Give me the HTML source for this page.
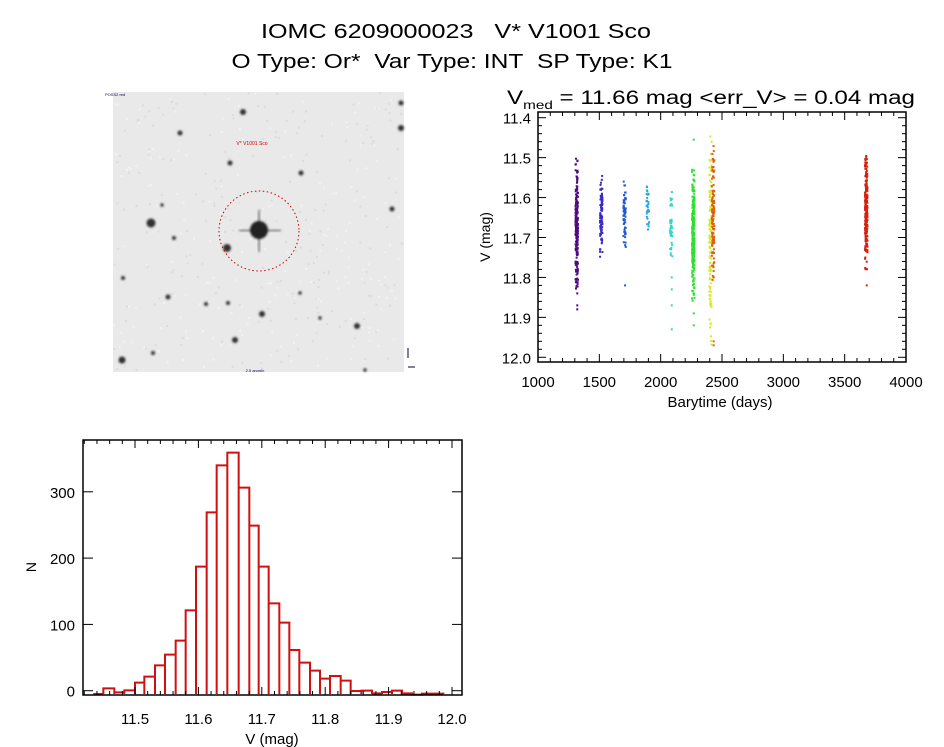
<!DOCTYPE html>
<html><head><meta charset="utf-8"><style>
html,body{margin:0;padding:0;background:#fff;}
svg{display:block;font-family:"Liberation Sans","DejaVu Sans",sans-serif;}
</style></head><body>
<svg id="s" width="944" height="747" viewBox="0 0 944 747" xmlns="http://www.w3.org/2000/svg">
<defs><filter id="bl" x="-50%" y="-50%" width="200%" height="200%"><feGaussianBlur stdDeviation="1"/></filter></defs>
<rect width="944" height="747" fill="#fff"/>
<text x="456" y="38" font-size="20" text-anchor="middle" textLength="390" lengthAdjust="spacingAndGlyphs">IOMC 6209000023&#160;&#160;&#160;V* V1001 Sco</text>
<text x="452" y="68" font-size="20" text-anchor="middle" textLength="441" lengthAdjust="spacingAndGlyphs">O Type: Or*&#160;&#160;Var Type: INT&#160;&#160;SP Type: K1</text>
<!-- image -->
<rect x="113" y="92" width="291" height="280" fill="#e9e9e9"/>
<g id="stars"></g>
<circle cx="259" cy="231" r="40" fill="none" stroke="#c00" stroke-width="1" stroke-dasharray="1.5 2.5"/>
<text x="252" y="145" font-size="5" fill="#c00" text-anchor="middle">V* V1001 Sco</text>
<text x="105" y="96" font-size="4" fill="#006">POSS2 red</text>
<text x="255" y="372" font-size="4" fill="#006" text-anchor="middle">2.5 arcmin</text>
<line x1="408" y1="348" x2="408" y2="358" stroke="#003" stroke-width="1"/>
<line x1="408" y1="367" x2="415" y2="367" stroke="#003" stroke-width="1"/>
<!-- lightcurve -->
<text x="507" y="104" font-size="19" textLength="408" lengthAdjust="spacingAndGlyphs">V<tspan font-size="12" dy="5">med</tspan><tspan dy="-5"> = 11.66 mag &lt;err_V&gt; = 0.04 mag</tspan></text>
<g id="lc"></g>
<rect x="538" y="112" width="368" height="250" fill="none" stroke="#000" stroke-width="1.5"/>
<text transform="translate(490,237) rotate(-90)" font-size="14" text-anchor="middle">V (mag)</text>
<text x="720" y="407" font-size="15" text-anchor="middle">Barytime (days)</text>
<!-- histogram -->
<g id="hist"></g>
<rect x="83" y="440" width="379" height="255" fill="none" stroke="#000" stroke-width="1.5"/>
<text transform="translate(36,567) rotate(-90)" font-size="14" text-anchor="middle">N</text>
<text x="272" y="744" font-size="15" text-anchor="middle">V (mag)</text>
</svg>
<script>
var NS="http://www.w3.org/2000/svg";
function el(p,t,a,txt){var e=document.createElementNS(NS,t);for(var k in a)e.setAttribute(k,a[k]);if(txt!==undefined)e.textContent=txt;document.getElementById(p).appendChild(e);return e;}
var seed=7;function rnd(){seed=(seed*16807)%2147483647;return seed/2147483647;}
var st=[[243,112,2.5],[401,128,2.5],[401,103,2],[180,133,2],[230,163,2],[301,173,2],[151,223,4],[227,248,3.5],[392,209,2],[168,297,2],[206,304,1.5],[228,303,1.5],[262,314,2.5],[357,326,2.5],[235,340,2.5],[122,360,3],[153,353,1.5],[123,278,1.5],[174,238,1.5],[162,205,1.2],[300,293,1.2],[320,318,1.2],[365,370,1.2]];
for(var i=0;i<400;i++){el("stars","rect",{x:113+rnd()*289,y:92+rnd()*278,width:2,height:2,fill:rnd()<0.5?"#dcdcdc":"#f2f2f2"});}
st.forEach(function(s){el("stars","circle",{cx:s[0],cy:s[1],r:s[2]+0.5,fill:"#333",filter:"url(#bl)"});});
el("stars","rect",{x:239,y:229.5,width:42,height:2,fill:"#888",filter:"url(#bl)"});
el("stars","rect",{x:258,y:210,width:2,height:42,fill:"#888",filter:"url(#bl)"});
el("stars","circle",{cx:259,cy:230,r:9,fill:"#222",filter:"url(#bl)"});
function X(t){return 538+(t-1000)*0.12267;}function Y(v){return 117.7+(v-11.4)*399.3;}
var cols=[[1320,"#500a80",11.50,11.83,220,[11.84,11.87,11.88]],[1520,"#3a28c8",11.545,11.75,90,[]],[1710,"#1f58d0",11.555,11.73,60,[11.82]],[1900,"#28a8d8",11.57,11.68,30,[]],[2090,"#30d8c8",11.575,11.75,40,[11.8,11.83,11.87,11.93]],[2270,"#30e030",11.53,11.86,260,[11.455,11.89,11.92]],[2410,"#d8e830",11.43,11.98,120,[]],[2432,"#e06010",11.46,11.82,120,[11.96,11.97]],[3680,"#d82010",11.495,11.78,220,[11.82]]];
cols.forEach(function(c){var x=X(c[0]);for(var i=0;i<c[4];i++){var u=(rnd()+rnd()+rnd())/3;var v=c[2]+(c[3]-c[2])*(rnd()<0.6?u:rnd());el("lc","rect",{x:x-1.5+(rnd()-0.5)*2.5,y:Y(v)-1,width:2,height:2,fill:c[1]});}
c[5].forEach(function(v){el("lc","rect",{x:x-1,y:Y(v)-1,width:2,height:2,fill:c[1]});});});
for(var t=1000;t<=4000;t+=100){var maj=t%500==0,L=maj?8:4,x=X(t);el("lc","line",{x1:x,y1:362,x2:x,y2:362-L,stroke:"#000"});el("lc","line",{x1:x,y1:112,x2:x,y2:112+L,stroke:"#000"});if(maj)el("lc","text",{x:x,y:387,"font-size":15,"text-anchor":"middle"},t);}
for(var k=0;k<=30;k++){var v=11.4+k*0.02;var maj=k%5==0,L=maj?8:4,y=Y(v);el("lc","line",{x1:538,y1:y,x2:538+L,y2:y,stroke:"#000"});el("lc","line",{x1:906,y1:y,x2:906-L,y2:y,stroke:"#000"});if(maj)el("lc","text",{x:531,y:y+6,"font-size":15,"text-anchor":"end"},v.toFixed(1));}
var bars=[[220,792],[250,775],[283,787],[313,781],[345,758],[373,740],[405,706],[435,674],[467,632],[497,541],[528,410],[560,247],[590,106],[622,68],[656,173],[688,287],[716,410],[746,520],[778,578],[808,660],[838,698],[870,722],[900,746],[930,738],[962,752],[992,783],[1024,782],[1056,790],[1086,786],[1116,782],[1146,790],[1176,794],[1206,791],[1238,791],[1270,794]];
var d="";for(var i=0;i<bars.length-1;i++){var x0=20+bars[i][0]/3,x1=20+bars[i+1][0]/3,y=430+bars[i][1]/3;d+="M"+x0+",694V"+y+"H"+x1+"V694";}
el("hist","path",{d:d,fill:"none",stroke:"#d01010","stroke-width":2});
function HX(v){return 135+(v-11.5)*634;}
for(var k=-4;k<=25;k++){var v=11.5+k*0.02;var x=HX(v);if(x<83||x>462)continue;var maj=(k%5==0),L=maj?8:4;el("hist","line",{x1:x,y1:695,x2:x,y2:695-L,stroke:"#000"});el("hist","line",{x1:x,y1:440,x2:x,y2:440+L,stroke:"#000"});if(maj)el("hist","text",{x:x,y:724,"font-size":15,"text-anchor":"middle"},v.toFixed(1));}
[0,100,200,300].forEach(function(n){var y=690.7-n*0.663;el("hist","line",{x1:83,y1:y,x2:93,y2:y,stroke:"#000"});el("hist","line",{x1:462,y1:y,x2:452,y2:y,stroke:"#000"});el("hist","text",{x:75,y:y+6,"font-size":15,"text-anchor":"end"},n);});
</script>
</body></html>
